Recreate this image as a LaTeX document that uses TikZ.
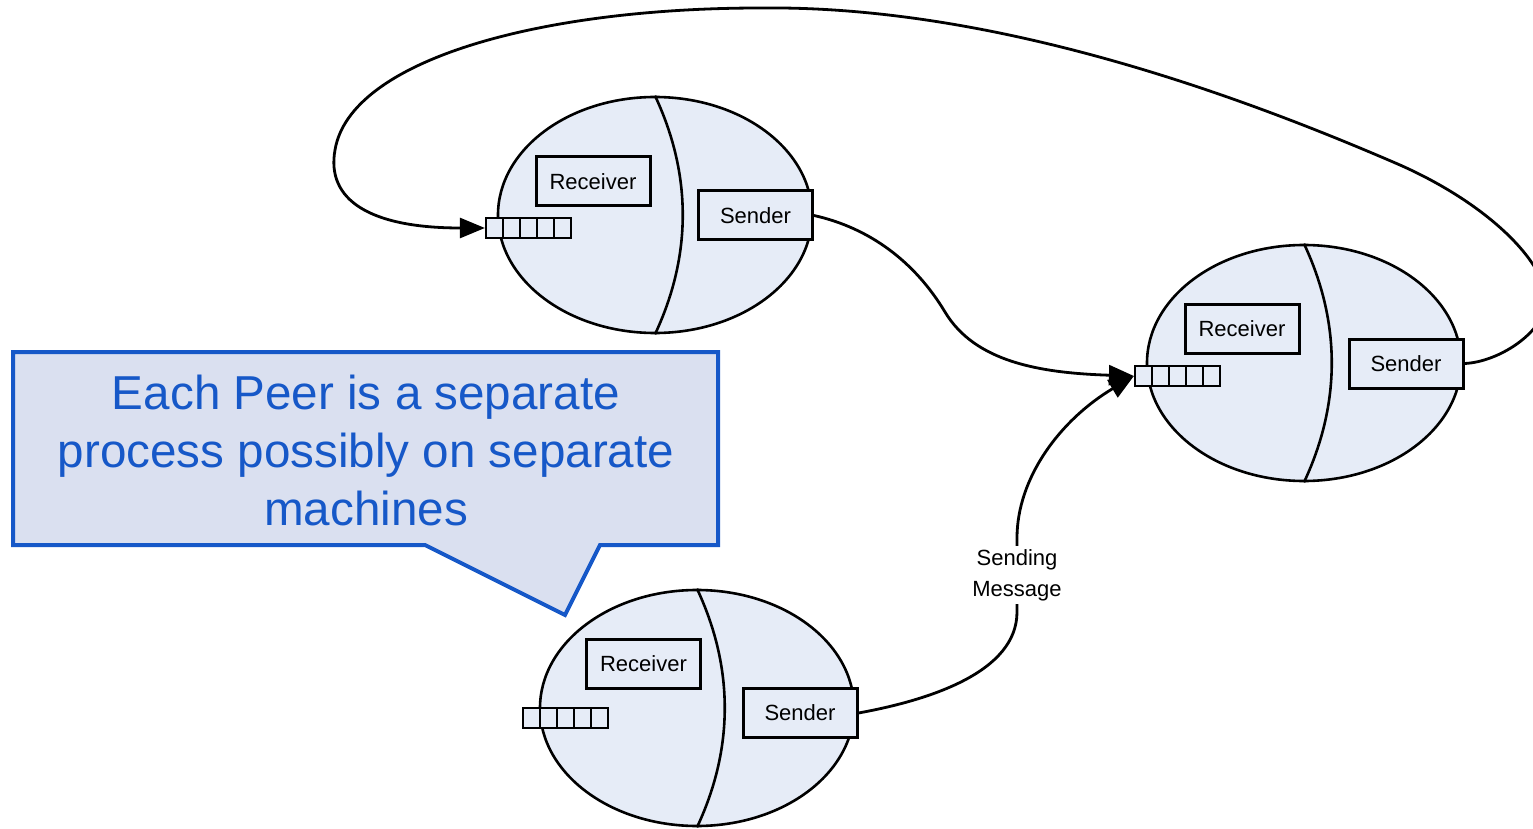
\documentclass[tikz,border=0pt]{standalone}
\usepackage{fontspec}
\setmainfont{Liberation Sans}
\usetikzlibrary{shapes.geometric,arrows.meta}

\definecolor{peerfill}{RGB}{230,236,247}
\definecolor{notefill}{RGB}{218,224,240}
\definecolor{noteblue}{RGB}{22,88,200}

\tikzset{
  peer/.style={ellipse, draw, line width=1.3pt, fill=peerfill,
    minimum width=157pt, minimum height=118pt, inner sep=0pt},
  compbox/.style={draw, line width=1.5pt, fill=peerfill, inner sep=0pt,
    minimum width=57pt, minimum height=24.5pt,
    font=\fontsize{11}{13}\selectfont},
  queue/.style={draw, line width=1.1pt, fill=peerfill, inner sep=0pt,
    minimum width=42.5pt, minimum height=10pt,
    path picture={\foreach \k in {1,2,3,4}{
      \draw[line width=1.1pt]
        ([xshift=\k*8.5pt]path picture bounding box.north west) --
        ([xshift=\k*8.5pt]path picture bounding box.south west);}}},
  divider/.style={line width=1.3pt},
  conn/.style={line width=1.4pt},
  tip/.style={-{Triangle[length=12.5pt,width=10pt]}},
  lbl/.style={fill=white, inner sep=1.5pt, align=center,
    font=\fontsize{11}{15.5}\selectfont},
}

\begin{document}
\begin{tikzpicture}[x=0.5pt, y=-0.5pt]
\clip (0,0) rectangle (1533,829);

% explanatory callout
\draw[line width=2pt, draw=noteblue, fill=notefill, line join=miter]
  (13,352) -- (718,352) -- (718,545) -- (600,545) -- (565,615)
  -- (425,545) -- (13,545) -- cycle;
\node[align=center, text=noteblue, font=\fontsize{23.8}{29}\selectfont]
  (note) at (366,450) {Each Peer is a separate\\process possibly on separate\\machines};

% peer 1
\node[peer] (p1) at (655,215) {};
\draw[divider] (p1.north) .. controls ([shift={(37,79)}]p1.north)
  and ([shift={(37,-79)}]p1.south) .. (p1.south);
\node[compbox] (r1) at (593,181.5) {Receiver};
\node[compbox] (s1) at (755.5,215.5) {Sender};
\node[queue] (q1) at (528.5,228) {};

% peer 2
\node[peer] (p2) at (1304,363) {};
\draw[divider] (p2.north) .. controls ([shift={(37,79)}]p2.north)
  and ([shift={(37,-79)}]p2.south) .. (p2.south);
\node[compbox] (r2) at (1242,328.5) {Receiver};
\node[compbox] (s2) at (1406,363.5) {Sender};
\node[queue] (q2) at (1177.5,376) {};

% peer 3
\node[peer] (p3) at (697,708) {};
\draw[divider] (p3.north) .. controls ([shift={(37,79)}]p3.north)
  and ([shift={(37,-79)}]p3.south) .. (p3.south);
\node[compbox] (r3) at (643.5,664) {Receiver};
\node[compbox] (s3) at (800,713) {Sender};
\node[queue] (q3) at (565.5,718) {};

% messages
\draw[conn, tip] (s1.east) .. controls (870,228) and (915,262) .. (945,312)
  .. controls (975,362) and (1040,373) .. (q2.west);

\draw[conn, tip] (s3.east) .. controls (930,700) and (1017,672) .. (1017,612)
  -- node[lbl] {Sending\\Message} (1017,538)
  .. controls (1017,478) and (1060,420) .. (q2.west);

\draw[conn, tip] (s2.east) .. controls (1500,362) and (1548,330) .. (1546,298)
  .. controls (1544,262) and (1490,205) .. (1400,165)
  .. controls (1250,100) and (1000,5) .. (760,8)
  .. controls (540,8) and (350,60) .. (335,150)
  .. controls (326,200) and (370,228) .. (q1.west);
\end{tikzpicture}
\end{document}
